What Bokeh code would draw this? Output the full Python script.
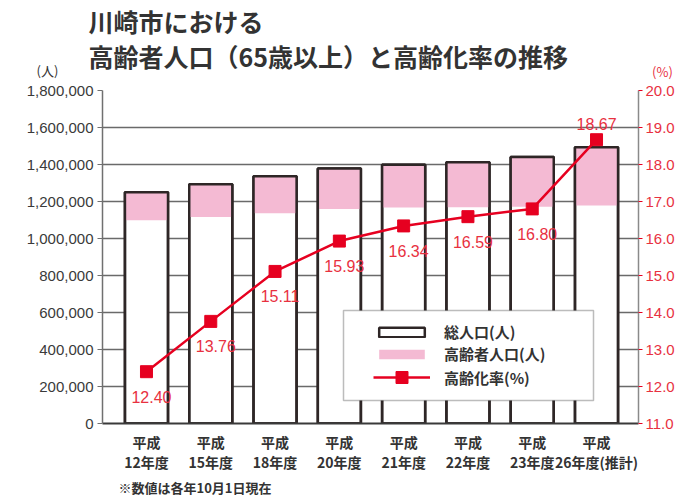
from bokeh.plotting import figure
from bokeh.models import (Range1d, LinearAxis, FixedTicker, NumeralTickFormatter, Title, Label,
                          Legend, LegendItem, ColumnDataSource, LabelSet, BoxAnnotation)
from bokeh.core.properties import value
from bokeh.embed import file_html
from bokeh.resources import INLINE

# ---- data ----
categories = ["平成\n12年度", "平成\n15年度", "平成\n18年度", "平成\n20年度",
              "平成\n21年度", "平成\n22年度", "平成\n23年度", "平成\n26年度(推計)"]
total_pop = [1250000, 1293000, 1336000, 1378000, 1398000, 1412000, 1440000, 1493000]
elderly_pop = [152000, 177000, 200000, 218000, 230000, 243000, 268000, 315000]
aging_rate = [12.40, 13.76, 15.11, 15.93, 16.34, 16.59, 16.80, 18.67]
left_ticks = [0, 200000, 400000, 600000, 800000, 1000000, 1200000, 1400000, 1600000, 1800000]
right_ticks = [11, 12, 13, 14, 15, 16, 17, 18, 19, 20]
title_lines = ["川崎市における", "高齢者人口（65歳以上）と高齢化率の推移"]
unit_left = "(人)"
unit_right = "(%)"
footnote = "※数値は各年10月1日現在"

idx = list(range(len(categories)))
rate_txt = ["%.2f" % r for r in aging_rate]
src = ColumnDataSource(dict(
    x=idx,
    total=total_pop,
    base=[t - e for t, e in zip(total_pop, elderly_pop)],
    rate=aging_rate,
))
n = len(idx)
src_below = ColumnDataSource(dict(x=idx[:n - 1], rate=aging_rate[:n - 1], txt=rate_txt[:n - 1]))
src_above = ColumnDataSource(dict(x=idx[n - 1:], rate=aging_rate[n - 1:], txt=rate_txt[n - 1:]))

JP = "Noto Sans CJK JP"
NUM = "Liberation Sans"
RED = "#e60020"
RED_TXT = "#e8313f"
DARK = "#2e2626"

p = figure(width=680, height=497, output_backend="svg", toolbar_location=None,
           x_range=Range1d(-0.684, 7.653), y_range=Range1d(0, 1800000),
           min_border_left=102, min_border_right=42, min_border_top=89, min_border_bottom=67)
p.outline_line_color = None
p.xgrid.visible = False
p.ygrid.ticker = FixedTicker(ticks=left_ticks)
p.ygrid.grid_line_color = "#6a6a6a"
p.ygrid.grid_line_width = 1.4
p.extra_y_ranges = {"rate": Range1d(11, 20)}

bw = 0.67
base = p.vbar(x="x", top="total", bottom=0, width=bw, source=src,
              fill_color="white", line_color=DARK, line_width=2.5)
pink = p.vbar(x="x", top="total", bottom="base", width=bw, source=src,
              fill_color="#f4bad3", line_color=None)
p.vbar(x="x", top="total", bottom=0, width=bw, source=src,
       fill_color=None, line_color=DARK, line_width=2.5)

ln = p.line(x="x", y="rate", source=src, y_range_name="rate", line_color=RED, line_width=2.5)
sq = p.scatter(x="x", y="rate", source=src, y_range_name="rate", marker="square", size=12,
               fill_color=RED, line_color=RED)

p.add_layout(LabelSet(x="x", y="rate", text="txt", source=src_below, y_range_name="rate",
                      x_offset=5, y_offset=-25, text_align="center", text_baseline="middle",
                      text_font=value(NUM), text_font_size="16px", text_color=RED_TXT))
p.add_layout(LabelSet(x="x", y="rate", text="txt", source=src_above, y_range_name="rate",
                      x_offset=0, y_offset=16, text_align="center", text_baseline="middle",
                      text_font=value(NUM), text_font_size="16px", text_color=RED_TXT))

ya = p.yaxis[0]
ya.ticker = FixedTicker(ticks=left_ticks)
ya.formatter = NumeralTickFormatter(format="0,0")
ya.axis_line_color = "#707070"
ya.axis_line_width = 1.5
ya.major_tick_line_color = "#707070"
ya.major_tick_in = 0
ya.major_tick_out = 5
ya.minor_tick_line_color = None
ya.major_label_text_font = NUM
ya.major_label_text_font_size = "15px"
ya.major_label_text_color = "#3a3a3a"
ya.major_label_standoff = 4

ra = LinearAxis(y_range_name="rate", ticker=FixedTicker(ticks=right_ticks),
                formatter=NumeralTickFormatter(format="0.0"))
ra.axis_line_color = "#8a8a8a"
ra.axis_line_width = 1.5
ra.major_tick_line_color = RED
ra.major_tick_in = 0
ra.major_tick_out = 4
ra.minor_tick_line_color = None
ra.major_label_text_font = NUM
ra.major_label_text_font_size = "15px"
ra.major_label_text_color = RED_TXT
ra.major_label_standoff = 3
p.add_layout(ra, "right")

xa = p.xaxis[0]
xa.ticker = FixedTicker(ticks=idx)
xa.major_label_overrides = {i: c for i, c in zip(idx, categories)}
xa.axis_line_color = "#3a3a3a"
xa.axis_line_width = 2
xa.major_tick_line_color = None
xa.minor_tick_line_color = None
xa.major_label_text_font = JP
xa.major_label_text_font_style = "bold"
xa.major_label_text_font_size = "14px"
xa.major_label_text_color = "#333333"
xa.major_label_text_line_height = 1.0
xa.major_label_standoff = 2

# legend box + two legends (bars / line)
p.add_layout(BoxAnnotation(left=241, right=491, bottom=23, top=113,
                           left_units="screen", right_units="screen",
                           top_units="screen", bottom_units="screen",
                           fill_color="white", fill_alpha=1.0,
                           line_color="#222222", line_width=1.5, level="overlay"))
leg_kw = dict(padding=0, margin=0, spacing=1, glyph_width=57, label_standoff=14,
              label_text_font=JP, label_text_font_style="bold", label_text_font_size="15px",
              label_text_color="#333333", border_line_color=None, background_fill_alpha=0)
leg1 = Legend(items=[LegendItem(label="総人口(人)", renderers=[base]),
                     LegendItem(label="高齢者人口(人)", renderers=[pink])],
              location=(271, 59), glyph_height=12, label_height=20, **leg_kw)
leg2 = Legend(items=[LegendItem(label="高齢化率(%)", renderers=[ln, sq])],
              location=(271, 31), glyph_height=30, label_height=30, **leg_kw)
p.add_layout(leg1, "center")
p.add_layout(leg2, "center")

# unit label (%) nearest the frame in the top border, then the two-line title above it
p.add_layout(Label(x=560, y=19, x_units="screen", y_units="screen", text=unit_right,
                   text_font=JP, text_font_size="13px", text_color=RED_TXT,
                   text_align="center", text_baseline="middle"), "above")
p.add_layout(Label(x=-14, y=33, x_units="screen", y_units="screen",
                   text="\n".join(title_lines), text_line_height=0.97,
                   text_font=JP, text_font_style="bold", text_font_size="25px",
                   text_color="#333333", text_align="left", text_baseline="middle"), "above")
# unit label (人) in the left border, beyond the axis
p.add_layout(Label(x=46, y=353, x_units="screen", y_units="screen", text=unit_left,
                   text_font=JP, text_font_size="13px", text_color="#333333",
                   text_align="center", text_baseline="middle"), "left")
p.add_layout(Title(text=footnote, align="left", offset=16, standoff=2,
                   text_font=JP, text_font_style="bold", text_font_size="13px",
                   text_color="#333333"), "below")

open("out.html", "w").write(file_html(p, INLINE))
